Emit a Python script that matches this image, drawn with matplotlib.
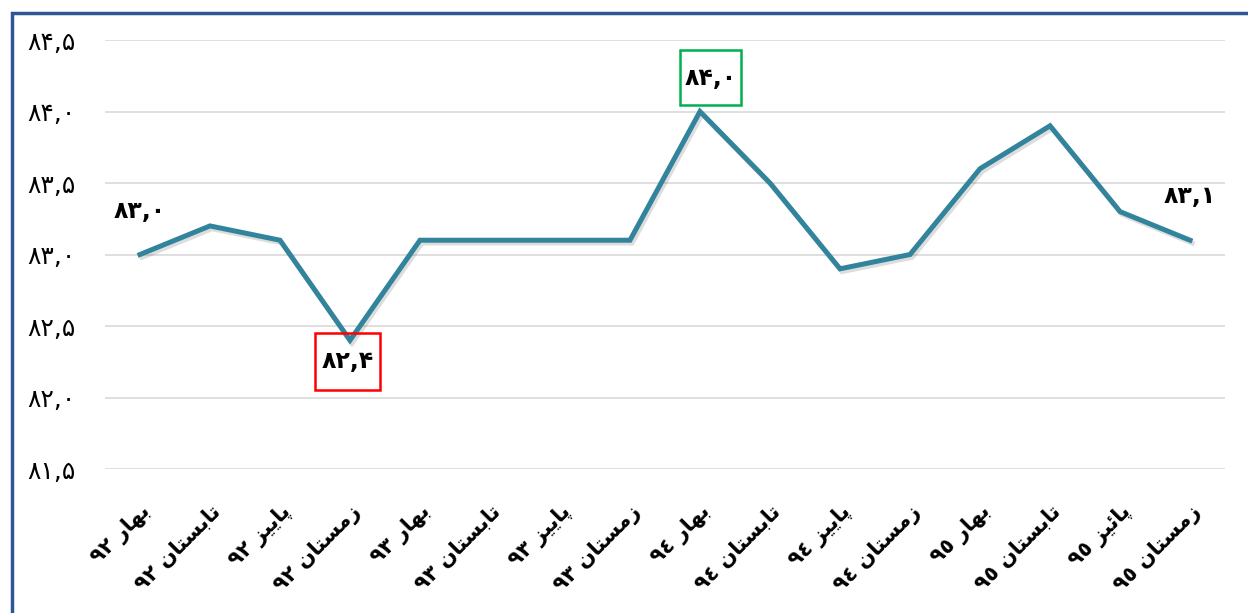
import matplotlib
matplotlib.use("Agg")
import matplotlib.pyplot as plt
import matplotlib.patheffects as pe
from matplotlib.patches import Rectangle
from matplotlib.transforms import IdentityTransform

# quarterly values (percent)
quarters = ["بهار ۹۲", "تابستان ۹۲", "پاییز ۹۲", "زمستان ۹۲",
            "بهار ۹۳", "تابستان ۹۳", "پاییز ۹۳", "زمستان ۹۳",
            "بهار ۹٤", "تابستان ۹٤", "پاییز ۹٤", "زمستان ۹٤",
            "بهار ۹٥", "تابستان ۹٥", "پائیز ۹٥", "زمستان ۹٥"]
values = [83.0, 83.2, 83.1, 82.4,
          83.1, 83.1, 83.1, 83.1,
          84.0, 83.5, 82.9, 83.0,
          83.6, 83.9, 83.3, 83.1]
yticks = [81.5, 82.0, 82.5, 83.0, 83.5, 84.0, 84.5]
labelled = [0, 3, 8, 15]

# minimal arabic shaping: isolated, final, initial, medial
FORMS = {
    'ا': ('\uFE8D', '\uFE8E', None, None),
    'ب': ('\uFE8F', '\uFE90', '\uFE91', '\uFE92'),
    'پ': ('\uFB56', '\uFB57', '\uFB58', '\uFB59'),
    'ت': ('\uFE95', '\uFE96', '\uFE97', '\uFE98'),
    'ر': ('\uFEAD', '\uFEAE', None, None),
    'ز': ('\uFEAF', '\uFEB0', None, None),
    'س': ('\uFEB1', '\uFEB2', '\uFEB3', '\uFEB4'),
    'م': ('\uFEE1', '\uFEE2', '\uFEE3', '\uFEE4'),
    'ن': ('\uFEE5', '\uFEE6', '\uFEE7', '\uFEE8'),
    'ه': ('\uFEE9', '\uFEEA', '\uFEEB', '\uFEEC'),
    'ی': ('\uFBFC', '\uFBFD', '\uFBFE', '\uFBFF'),
    'ئ': ('\uFE89', '\uFE8A', '\uFE8B', '\uFE8C'),
}


def shape_word(w):
    out = []
    for i, ch in enumerate(w):
        if ch not in FORMS:
            out.append(ch)
            continue
        prev = w[i - 1] if i > 0 else None
        nxt = w[i + 1] if i < len(w) - 1 else None
        jp = prev in FORMS and FORMS[prev][2] is not None
        jn = nxt in FORMS and FORMS[ch][2] is not None
        f = FORMS[ch]
        if jp and jn:
            out.append(f[3])
        elif jp:
            out.append(f[1])
        elif jn:
            out.append(f[2])
        else:
            out.append(f[0])
    return ''.join(out)[::-1]


def rtl(label):
    word, num = label.split(' ')
    return num + ' ' + shape_word(word)


def fa_num(v):
    s = f"{v:.1f}".replace('.', ',')
    return s.translate(str.maketrans('0123456789', '۰۱۲۳۴۵۶۷۸۹'))


fig = plt.figure(figsize=(12.48, 6.13), dpi=100)
ax = fig.add_axes([0.0841, 0.2349, 0.8975, 0.6998])

x = list(range(len(values)))
ax.plot(x, values, color='#31849B', lw=3.6, solid_joinstyle='miter',
        path_effects=[pe.SimpleLineShadow(offset=(1.5, -2), alpha=0.2, shadow_color='#555555'),
                      pe.Normal()], zorder=3)

ax.set_xlim(-0.5, len(values) - 0.5)
ax.set_ylim(81.5, 84.5)
ax.set_yticks(yticks)
ax.set_yticklabels([fa_num(v) for v in yticks], fontsize=18, family='DejaVu Sans')
ax.set_xticks(x)
ax.set_xticklabels([rtl(q) for q in quarters], rotation=45, ha='right',
                   rotation_mode='anchor', fontsize=15, fontweight='bold',
                   family='DejaVu Sans')
ax.tick_params(axis='y', length=0, pad=21)
ax.tick_params(axis='x', length=0, pad=23)
for t in ax.get_xticklabels():
    t.set_x(t.get_position()[0])
ax.grid(axis='y', color='#D9D9D9', lw=1.2)
ax.set_axisbelow(True)
for s in ax.spines.values():
    s.set_visible(False)

# data labels (offsets in pixels)
offsets = {0: (0, 44), 3: (-2, -21), 8: (11, 34), 15: (0, 44)}
boxes = {3: ('#FF0000', 65, 57), 8: ('#00B050', 61, 55)}
for i in labelled:
    dx, dy = offsets[i]
    ax.annotate(fa_num(values[i]), (x[i], values[i]), xytext=(dx, dy),
                textcoords='offset pixels', ha='center', va='center',
                fontsize=17, fontweight='bold', family='DejaVu Sans', zorder=5)
    if i in boxes:
        ec, w, h = boxes[i]
        px, py = ax.transData.transform((x[i], values[i]))
        cx, cy = px + dx, py + dy
        fig.add_artist(Rectangle((cx - w / 2, cy - h / 2), w, h,
                                 transform=IdentityTransform(), fill=False,
                                 ec=ec, lw=1.8))

# outer frame (left/top visible)
fig.add_artist(Rectangle((11.5 / 1248, -0.1), 1.2, 1.1 - 13.5 / 613,
                         transform=fig.transFigure, fill=False,
                         ec='#2F5597', lw=2.5))

fig.savefig('out.png', dpi=100)
